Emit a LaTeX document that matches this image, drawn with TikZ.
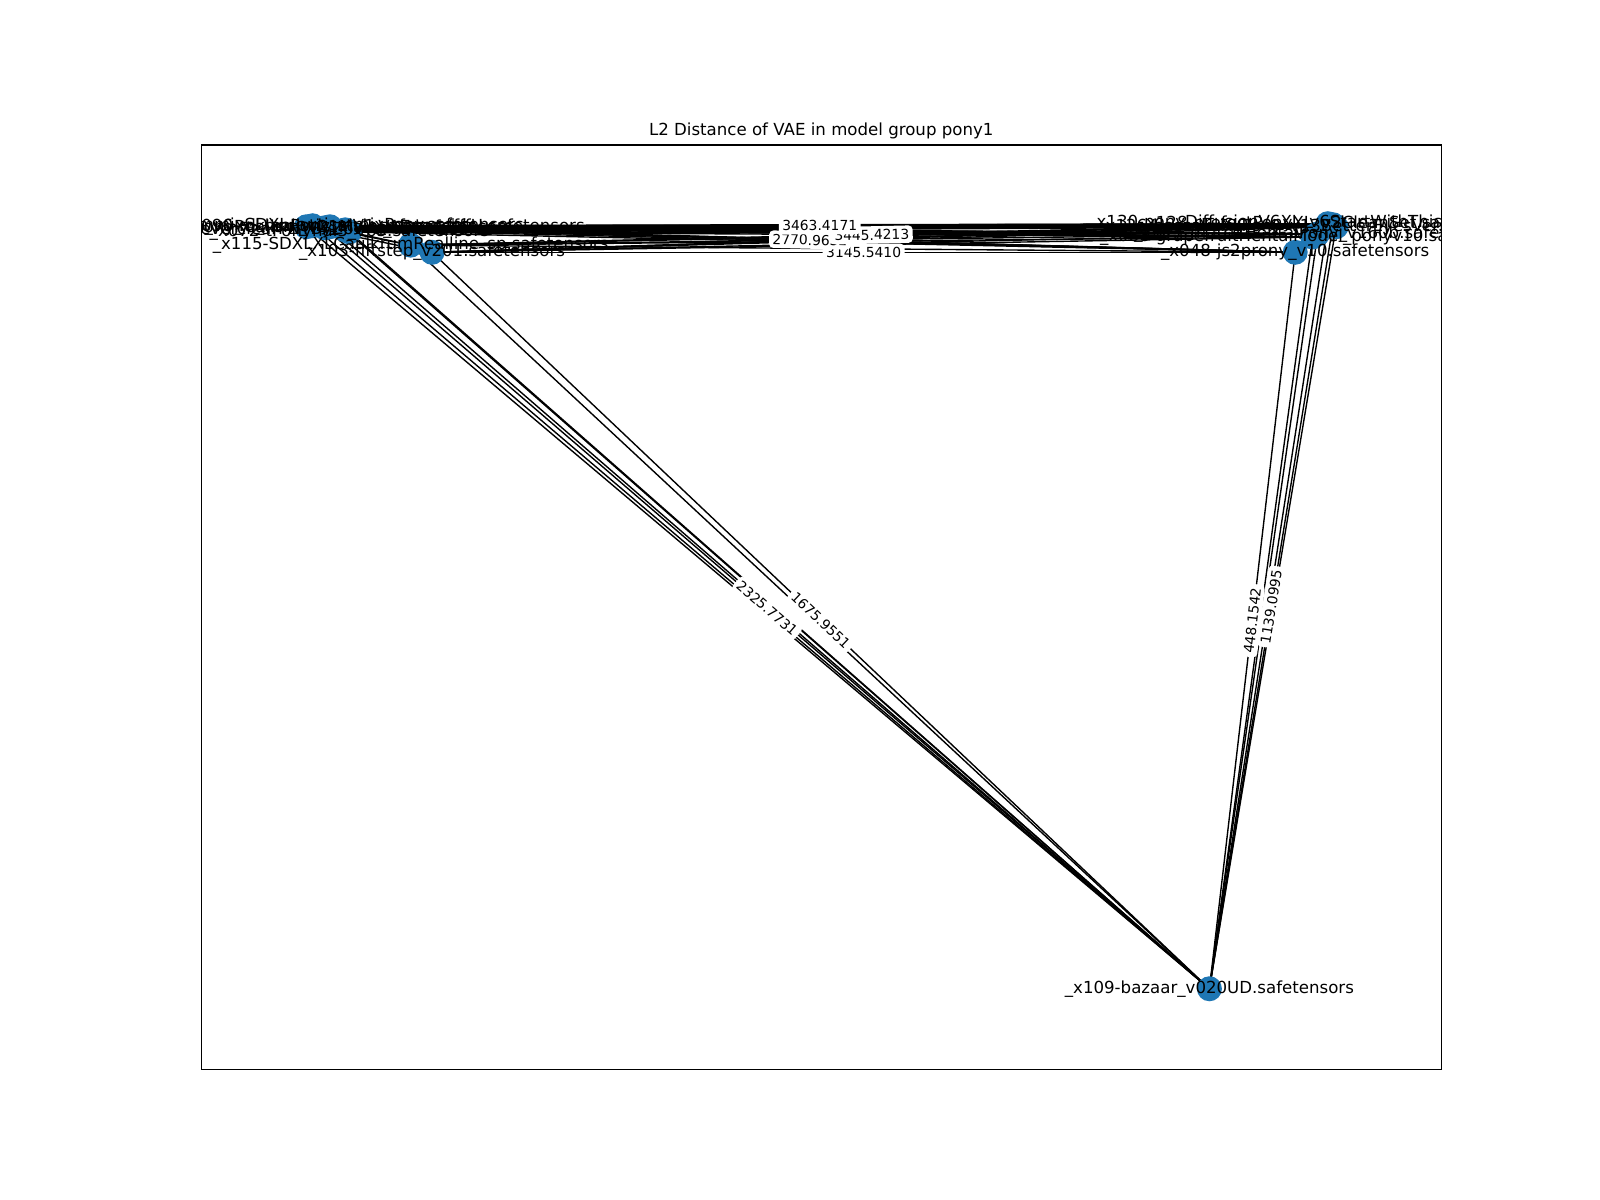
\documentclass[tikz,border=0pt]{standalone}
\usepackage{fontspec}
\setmainfont{DejaVu Sans}
\definecolor{nodeblue}{HTML}{1F77B4}
\begin{document}
\begin{tikzpicture}[x=0.0102145in,y=-0.0102145in,
  nd/.style={circle,fill=nodeblue,minimum size=0.25in,inner sep=0pt},
  edge/.style={line width=1pt,black},
  nlab/.style={font=\fontsize{12}{14}\selectfont,inner sep=0pt,anchor=center},
  elab/.style={font=\fontsize{10}{12}\selectfont,fill=white,rounded corners=3pt,inner sep=2.5pt,midway,sloped},
  frame/.style={line width=0.8pt,black},
  ttl/.style={font=\fontsize{12}{14}\selectfont}]
\useasboundingbox (0,0) rectangle (1566.4,1174.8);

% node positions
\coordinate (pL1) at (300,222);
\coordinate (pL2) at (306,221);
\coordinate (pL3) at (318,223);
\coordinate (pL4) at (323,222);
\coordinate (pL5) at (338,225);
\coordinate (pL6) at (342,227);
\coordinate (pL7) at (402,240);
\coordinate (pL8) at (423,247);
\coordinate (pR1) at (1305,220);
\coordinate (pR2) at (1300,219);
\coordinate (pR3) at (1308,222);
\coordinate (pR4) at (1290,229);
\coordinate (pR5) at (1285,232);
\coordinate (pR6) at (1268,247);
\coordinate (pB) at (1184,968);

% edges
\foreach \a in {pL1,pL2,pL3,pL4,pL5,pL6,pL7,pL8}{
  \foreach \b in {pR1,pR2,pR3,pR4,pR5,pR6,pB}{
    \draw[edge] (\a) -- (\b);
  }
}
\foreach \a in {pR1,pR2,pR3,pR4,pR5,pR6}{\draw[edge] (\a) -- (pB);}
\draw[edge] (pL1) -- (pL3) -- (pL6) -- (pL7) -- (pL8);
\draw[edge] (pL1) -- (pL8);
\draw[edge] (pL2) -- (pL7);
\draw[edge] (pR1) -- (pR5) -- (pR6) -- (pR1);
\draw[edge] (pR2) -- (pR6);

% nodes
\node[nd] (L1) at (pL1) {};
\node[nd] (L2) at (pL2) {};
\node[nd] (L3) at (pL3) {};
\node[nd] (L4) at (pL4) {};
\node[nd] (L5) at (pL5) {};
\node[nd] (L6) at (pL6) {};
\node[nd] (L7) at (pL7) {};
\node[nd] (L8) at (pL8) {};
\node[nd] (R1) at (pR1) {};
\node[nd] (R2) at (pR2) {};
\node[nd] (R3) at (pR3) {};
\node[nd] (R4) at (pR4) {};
\node[nd] (R5) at (pR5) {};
\node[nd] (R6) at (pR6) {};
\node[nd] (B) at (pB) {};

% node labels (clipped to the axes, as in the reference)
\begin{scope}
\clip (197,142) rectangle (1411,1047);
\node[nlab] (tL1) at (300,222) {\_x021-pony\_diffusion\_v6\_xl\_realistic\_style\_merge\_ffffU.safetensors};
\node[nlab] (tL2) at (306,221) {\_x004-autismmixSDXL\_autismmixPony.safetensors};
\node[nlab] (tL3) at (318,223) {\_x017-ponyRealism\_v21MainVAE.safetensors};
\node[nlab] (tL4) at (323,222) {\_x090-mklanPony\_xlV1.safetensors};
\node[nlab] (tL5) at (338,225) {\_x055-everclearPNYByZovya\_v2VAE.safetensors};
\node[nlab] (tL6) at (342,227) {\_x072-tPonynai3\_v65.safetensors};
\node[nlab] (tL7) at (402,240) {\_x115-SDXLXLCaulkrumRealline\_sp.safetensors};
\node[nlab] (tL8) at (423,247) {\_x103-fiftstep\_v201.safetensors};
\node[nlab] (tR1) at (1305,218) {\_x130-ponyDiffusionV6XL\_v6StartWithThisOne.safetensors};
\node[nlab] (tR2) at (1300,219) {\_x128-prefectPonyXL\_v2CleanSet.safetensors};
\node[nlab] (tR3) at (1308,222) {\_x126-hassakuXLPony\_v13BetterEyesVersion.safetensors};
\node[nlab] (tR4) at (1290,229) {\_x077-matrixHentaiPony\_v160b.safetensors};
\node[nlab] (tR5) at (1285,232) {\_x088-grapefruitHentaiModel\_ponyv10.safetensors};
\node[nlab] (tR6) at (1268,247) {\_x048-js2prony\_v10.safetensors};
\node[nlab] (tB) at (1184,968) {\_x109-bazaar\_v020UD.safetensors};
\end{scope}

% edge labels
\path (L8) -- (R6) node[elab] {3145.5410};
\path (L3) -- (R6) node[elab] {2770.9632};
\path (L7) -- (R1) node[elab] {3445.4213};
\path (L1) -- (R1) node[elab] {3463.4171};
\path (L3) -- (B) node[elab] {2325.7731};
\path (L8) -- (B) node[elab] {1675.9551};
\path (R6) -- (B) node[elab] {448.1542};
\path (R1) -- (B) node[elab] {1139.0995};

% axes frame and title
\draw[frame] (197,142) rectangle (1411,1047);
\node[ttl] (title) at (804,128) {L2 Distance of VAE in model group pony1};
\end{tikzpicture}
\end{document}
